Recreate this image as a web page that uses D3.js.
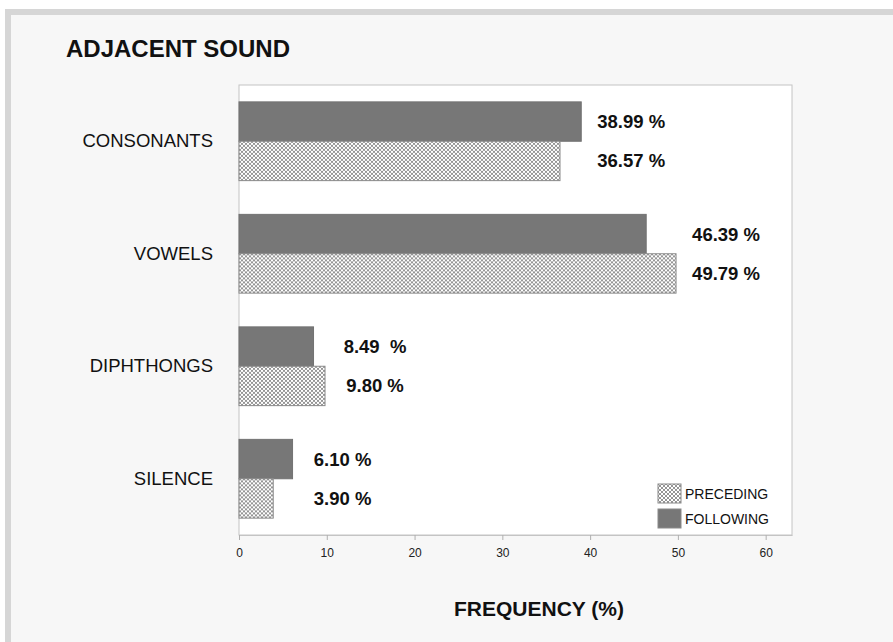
<!DOCTYPE html>
<html>
<head>
<meta charset="utf-8">
<script src="https://cdn.jsdelivr.net/npm/d3@7"></script>
<style>
  body { margin: 0; background: #fff; }
  text { font-family: "Liberation Sans", Arial, sans-serif; }
</style>
</head>
<body>
<div id="chart"></div>
<script>
// Chart data
var categories = ["CONSONANTS", "VOWELS", "DIPHTHONGS", "SILENCE"];
var series = ["FOLLOWING", "PRECEDING"];
var following = [38.99, 46.39, 8.49, 6.10];
var preceding = [36.57, 49.79, 9.80, 3.90];
var followingLabels = ["38.99 %", "46.39 %", "8.49  %", "6.10 %"];
var precedingLabels = ["36.57 %", "49.79 %", "9.80 %", "3.90 %"];
var xTicks = [0, 10, 20, 30, 40, 50, 60];
var legendOrder = ["PRECEDING", "FOLLOWING"];

// Svg dimension
var svgWidth = 893;
var svgHeight = 642;

// Plot box
var plotLeft = 239;
var plotRight = 792;
var plotTop = 85;
var plotBottom = 535;

var svg = d3.select("#chart")
  .append("svg")
  .attr("width", svgWidth)
  .attr("height", svgHeight);

// Hatch pattern for preceding bars
var defs = svg.append("defs");
var pat = defs.append("pattern")
  .attr("id", "hatch")
  .attr("patternUnits", "userSpaceOnUse")
  .attr("width", 4)
  .attr("height", 4);
pat.append("rect").attr("width", 4).attr("height", 4).attr("fill", "#ffffff");
pat.append("path")
  .attr("d", "M0,0 L4,4 M4,0 L0,4 M-1,3 L1,5 M3,-1 L5,1 M-1,1 L1,-1 M3,5 L5,3")
  .attr("stroke", "#959595")
  .attr("stroke-width", 1);

// Background frame
svg.append("rect")
  .attr("x", 8).attr("y", 12)
  .attr("width", 900).attr("height", 640)
  .attr("fill", "#f7f7f7")
  .attr("stroke", "#d6d6d6")
  .attr("stroke-width", 6);

// Plot area
svg.append("rect")
  .attr("x", plotLeft).attr("y", plotTop)
  .attr("width", plotRight - plotLeft)
  .attr("height", plotBottom - plotTop)
  .attr("fill", "#ffffff")
  .attr("stroke", "#c4c4c4")
  .attr("stroke-width", 1);

// Scales
var x = d3.scaleLinear()
  .domain([0, 63])
  .range([plotLeft, plotRight]);

var y = d3.scaleBand()
  .domain(categories)
  .range([plotTop, plotBottom])
  .paddingInner(0.3)
  .paddingOuter(0.15);

var ySub = d3.scaleBand()
  .domain(series)
  .range([0, y.bandwidth()]);

var rows = categories.map(function(c, i) {
  return {
    cat: c,
    FOLLOWING: following[i],
    PRECEDING: preceding[i],
    labels: { FOLLOWING: followingLabels[i], PRECEDING: precedingLabels[i] }
  };
});

// X axis
var xAxis = svg.append("g")
  .attr("transform", `translate(0,${plotBottom})`)
  .call(d3.axisBottom(x).tickValues(xTicks).tickSize(5).tickSizeOuter(0).tickPadding(8));
xAxis.select(".domain").attr("stroke", "#c4c4c4");
xAxis.selectAll(".tick line").attr("stroke", "#b0b0b0");
xAxis.selectAll(".tick text")
  .attr("font-size", 12)
  .attr("fill", "#222")
  .style("font-family", "'Liberation Sans', Arial, sans-serif");

// Y axis (category names)
var yAxis = svg.append("g")
  .attr("transform", `translate(${plotLeft},0)`)
  .call(d3.axisLeft(y).tickSize(0).tickPadding(26));
yAxis.select(".domain").remove();
yAxis.selectAll(".tick text")
  .attr("font-size", 18.5)
  .attr("fill", "#111")
  .style("font-family", "'Liberation Sans', Arial, sans-serif");

// Bars
var groups = svg.selectAll(".grp")
  .data(rows)
  .enter()
  .append("g")
  .attr("class", "grp")
  .attr("transform", d => `translate(0,${y(d.cat)})`);

groups.selectAll("rect")
  .data(d => series.map(s => ({ key: s, value: d[s] })))
  .enter()
  .append("rect")
  .attr("x", x(0))
  .attr("y", d => ySub(d.key))
  .attr("width", d => x(d.value) - x(0))
  .attr("height", ySub.bandwidth())
  .attr("fill", d => d.key === "FOLLOWING" ? "#777777" : "url(#hatch)")
  .attr("stroke", d => d.key === "FOLLOWING" ? "#727272" : "#8a8a8a")
  .attr("stroke-width", 1);

// Value labels
groups.selectAll("text")
  .data(d => series.map(s => ({
    key: s,
    label: d.labels[s],
    anchor: Math.max(d.FOLLOWING, d.PRECEDING)
  })))
  .enter()
  .append("text")
  .attr("x", d => x(d.anchor) + 50)
  .attr("y", d => ySub(d.key) + ySub.bandwidth() / 2)
  .attr("dy", "0.35em")
  .attr("text-anchor", "middle")
  .attr("font-size", 18.5)
  .attr("font-weight", "bold")
  .attr("fill", "#111")
  .style("white-space", "pre")
  .text(d => d.label);

// Legend
var legend = svg.selectAll(".legend")
  .data(legendOrder)
  .enter()
  .append("g")
  .attr("class", "legend")
  .attr("transform", (d, i) => `translate(658,${484 + i * 25})`);

legend.append("rect")
  .attr("width", 23)
  .attr("height", 19)
  .attr("fill", d => d === "FOLLOWING" ? "#777777" : "url(#hatch)")
  .attr("stroke", "#8a8a8a")
  .attr("stroke-width", 1);

legend.append("text")
  .attr("x", 27)
  .attr("y", 10)
  .attr("dy", "0.35em")
  .attr("font-size", 14)
  .attr("fill", "#111")
  .text(d => d);

// Titles
svg.append("text")
  .attr("x", 66)
  .attr("y", 57)
  .attr("font-size", 24)
  .attr("font-weight", "bold")
  .attr("fill", "#111")
  .text("ADJACENT SOUND");

svg.append("text")
  .attr("x", 539)
  .attr("y", 616)
  .attr("text-anchor", "middle")
  .attr("font-size", 21)
  .attr("font-weight", "bold")
  .attr("fill", "#111")
  .text("FREQUENCY (%)");
</script>
</body>
</html>
